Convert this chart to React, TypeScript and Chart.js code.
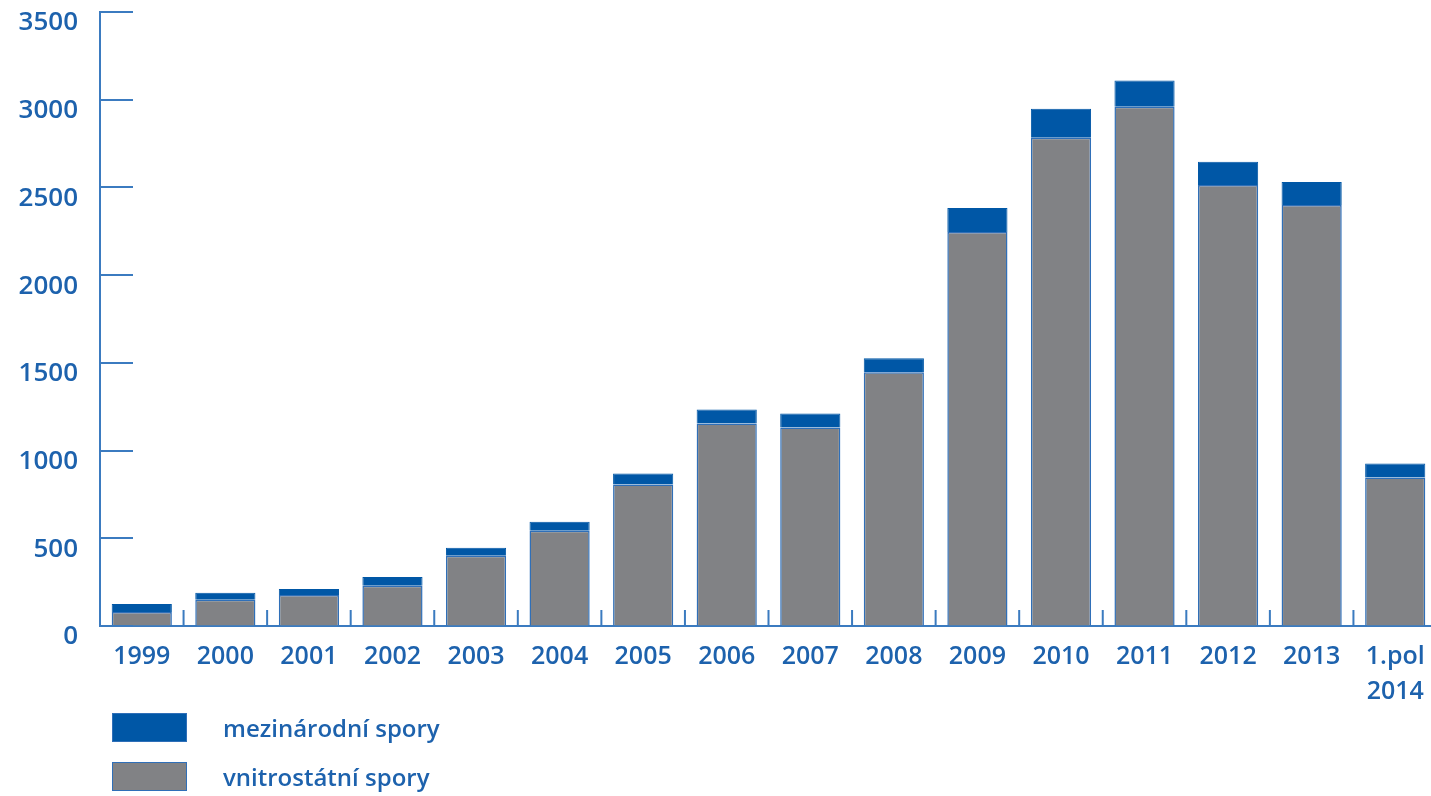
import React, { useEffect, useRef } from "react";
import { Chart, registerables } from "chart.js";

Chart.register(...registerables);

const categories: (string | string[])[] = [
  "1999", "2000", "2001", "2002", "2003", "2004", "2005", "2006",
  "2007", "2008", "2009", "2010", "2011", "2012", "2013", ["1.pol", "2014"],
];
const domestic = [80, 149, 177, 229, 400, 543, 806, 1154, 1131, 1446, 2246, 2783, 2960, 2514, 2400, 846];
const international = [46, 40, 34, 51, 46, 51, 63, 80, 80, 80, 137, 166, 149, 132, 131, 80];
const yTicks = [0, 500, 1000, 1500, 2000, 2500, 3000, 3500];
const seriesLabels = ["mezinárodní spory", "vnitrostátní spory"];
const seriesColors = ["#0057a6", "#818285"];

const AXIS = "#3b7bc0";
const TEXT = "#1d62ad";
const FONT = "'Open Sans', 'Noto Sans', sans-serif";
const WEIGHT = "600";

const innerTicks = {
  id: "innerTicks",
  afterDatasetsDraw(chart: any) {
    const { ctx, chartArea, scales } = chart;
    const x = scales.x;
    const y = scales.y;
    ctx.save();
    ctx.strokeStyle = AXIS;
    ctx.lineWidth = 2;
    ctx.beginPath();
    for (const v of yTicks) {
      const py = Math.round(y.getPixelForValue(v));
      ctx.moveTo(chartArea.left, py);
      ctx.lineTo(chartArea.left + 33, py);
    }
    for (let i = 0; i < categories.length - 1; i++) {
      const px = (x.getPixelForValue(i) + x.getPixelForValue(i + 1)) / 2;
      ctx.moveTo(px, chartArea.bottom);
      ctx.lineTo(px, chartArea.bottom - 16);
    }
    ctx.stroke();
    ctx.restore();
  },
};

export default function App() {
  const ref = useRef<HTMLCanvasElement | null>(null);

  useEffect(() => {
    if (!ref.current) return;
    const chart = new Chart(ref.current, {
      type: "bar",
      data: {
        labels: categories as any,
        datasets: [
          {
            label: seriesLabels[1],
            data: domestic,
            backgroundColor: seriesColors[1],
            borderColor: "#2f6fb8",
            borderWidth: 1.5,
            stack: "s",
          },
          {
            label: seriesLabels[0],
            data: international,
            backgroundColor: seriesColors[0],
            borderColor: "#0057a6",
            borderWidth: 1,
            stack: "s",
          },
        ],
      },
      options: {
        animation: false,
        responsive: true,
        maintainAspectRatio: false,
        layout: { padding: { top: 12, right: 3, bottom: 0, left: 0 } },
        datasets: {
          bar: { categoryPercentage: 1, barPercentage: 0.72 },
        },
        plugins: {
          legend: { display: false },
          tooltip: { enabled: false },
        },
        scales: {
          x: {
            stacked: true,
            grid: { display: true, drawOnChartArea: false, drawTicks: false },
            border: { display: true, color: AXIS, width: 2 },
            ticks: {
              autoSkip: false,
              maxRotation: 0,
              minRotation: 0,
              padding: 13,
              color: TEXT,
              font: { family: FONT, size: 25, weight: WEIGHT, lineHeight: 1.42 },
            },
            afterFit: (s: any) => {
              s.height = 170;
              s.paddingLeft = 0;
              s.paddingRight = 0;
            },
          },
          y: {
            stacked: true,
            min: 0,
            max: 3500,
            grid: { display: true, drawOnChartArea: false, drawTicks: false },
            border: { display: true, color: AXIS, width: 2 },
            ticks: {
              padding: 22,
              labelOffset: 11,
              color: TEXT,
              font: { family: FONT, size: 26, weight: WEIGHT },
              callback: (v: any) => String(v),
            },
            afterBuildTicks: (s: any) => {
              s.ticks = yTicks.map((v) => ({ value: v }));
            },
            afterFit: (s: any) => {
              s.width = 100;
              s.paddingTop = 0;
              s.paddingBottom = 0;
            },
          },
        },
      },
      plugins: [innerTicks],
    });
    return () => chart.destroy();
  }, []);

  const legendRows = [
    { label: seriesLabels[0], color: seriesColors[0], top: 713 },
    { label: seriesLabels[1], color: seriesColors[1], top: 762 },
  ];

  return (
    <div
      style={{
        position: "fixed",
        left: 0,
        top: 0,
        width: 1431,
        height: 796,
        overflow: "hidden",
        background: "#ffffff",
      }}
    >
      <div style={{ position: "absolute", left: 0, top: 0, width: 1440, height: 796 }}>
        <canvas ref={ref} />
      </div>
      {legendRows.map((r) => (
        <div key={r.label}>
          <div
            style={{
              position: "absolute",
              left: 112,
              top: r.top,
              width: 75,
              height: 29,
              boxSizing: "border-box",
              background: r.color,
              border: "1.5px solid #2f6fb8",
            }}
          />
          <div
            style={{
              position: "absolute",
              left: 223,
              top: r.top - 1,
              height: 31,
              lineHeight: "31px",
              fontFamily: FONT,
              fontSize: 24,
              fontWeight: Number(WEIGHT),
              color: TEXT,
              whiteSpace: "nowrap",
            }}
          >
            {r.label}
          </div>
        </div>
      ))}
    </div>
  );
}
